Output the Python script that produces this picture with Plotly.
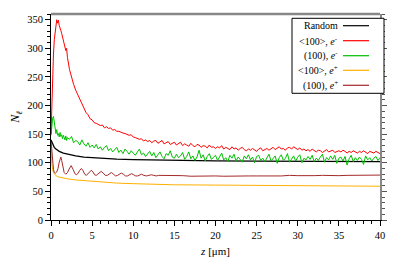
import plotly.graph_objects as go

# ---------------- data ----------------
# grid for the noisy electron curves: 0..2 step 0.1, then 2.25..40 step 0.25
z_noisy = [round(0.1 * i, 2) for i in range(21)] + [round(2 + 0.25 * i, 2) for i in range(1, 153)]

axis_e_minus = [
    150, 212, 262, 290, 315, 331, 345, 350, 344, 349, 340, 337, 331, 326, 319, 315, 309, 303, 296, 300, 284,
    263, 249, 237, 227,
    219, 212, 202, 197,
    188, 184, 177, 175,
    170, 169, 167, 165,
    166, 161, 163, 160,
    161, 157, 158, 155,
    155, 153, 152, 151,
    150, 148, 149, 145,
    144, 143, 141, 142,
    138, 140, 137, 139,
    135, 138, 139, 134,
    136, 139, 133, 135,
    137, 132, 134, 136,
    131, 134, 136, 130,
    133, 131, 129, 134,
    130, 128, 132, 131,
    127, 130, 129, 126,
    131, 127, 128, 125,
    128, 126, 130, 124,
    127, 125, 123, 128,
    124, 126, 122, 125,
    127, 123, 121, 124,
    122, 125, 123, 120,
    124, 126, 121, 123,
    125, 122, 124, 127,
    123, 126, 128, 124,
    125, 122, 126, 127,
    124, 128, 125, 123,
    126, 122, 124, 121,
    123, 120, 124, 122,
    119, 122, 121, 118,
    121, 123, 119, 120,
    122, 118, 120, 121,
    119, 122, 120, 117,
    120, 118, 121, 119,
    117, 120, 118, 121,
    119, 116, 120, 118,
    117, 120, 118, 116,
]

plane_e_minus = [
    148, 166, 178, 181, 169, 160, 151, 158, 148, 151, 145, 153, 146, 149, 142, 148, 144, 140, 147, 139, 144,
    141, 146, 135, 139,
    137, 131, 140, 133,
    129, 135, 127, 131,
    126, 132, 124, 128,
    122, 127, 130, 121,
    125, 119, 123, 127,
    118, 122, 116, 124,
    120, 115, 121, 117,
    113, 119, 124, 114,
    117, 111, 116, 120,
    112, 118, 109, 115,
    119, 111, 107, 116,
    113, 121, 110, 108,
    115, 109, 112, 118,
    106, 111, 119, 107,
    112, 104, 110, 122,
    108, 114, 103, 111,
    116, 106, 109, 113,
    104, 111, 117, 105,
    109, 102, 113, 108,
    115, 103, 110, 106,
    101, 112, 107, 114,
    105, 110, 100, 111,
    113, 104, 108, 102,
    110, 115, 103, 107,
    112, 99, 109, 114,
    104, 108, 116, 101,
    107, 112, 103, 110,
    114, 100, 108, 105,
    111, 106, 113, 102,
    108, 104, 110, 115,
    101, 109, 105, 112,
    106, 113, 99, 108,
    110, 103, 111, 96,
    107, 113, 102, 109,
    104, 110, 106, 97,
    112, 105, 109, 103,
    108, 111, 104, 109,
]

z_random = [0, 0.1, 0.2, 0.4, 0.6, 0.8, 1.0, 1.5, 2, 3, 4, 5, 6, 7, 8, 10, 12, 15, 20, 25, 30, 35, 40]
random_vals = [140, 136, 132, 127, 124, 122, 120, 117, 115, 112, 110, 109, 108, 107, 106.5, 105.5, 105,
               104, 103.5, 103, 102.5, 102.5, 102]

z_axis_pos = [0, 0.05, 0.1, 0.2, 0.3, 0.5, 0.75, 1, 1.5, 2, 3, 4, 5, 6, 7, 8, 10, 12, 15, 20, 25, 30, 35, 40]
axis_e_plus = [130, 110, 98, 88, 83, 79, 76, 75, 73, 72, 70, 69, 67, 66, 65, 64.5, 63.5, 62.5, 61.5, 61,
               60.5, 60, 59.5, 59]

z_plane_pos = [
    0, 0.1, 0.2, 0.3, 0.4, 0.55, 0.7, 0.85, 1.0, 1.1,
    1.2, 1.3, 1.45, 1.6, 1.8, 2.0, 2.2, 2.45, 2.7, 2.9,
    3.1, 3.3, 3.5, 3.7, 3.9, 4.1, 4.3, 4.5, 4.7, 4.9,
    5.1, 5.3, 5.5, 5.7, 5.9, 6.1, 6.35, 6.6, 6.85, 7.1,
    7.35, 7.6, 7.85, 8.1, 8.3, 8.55, 8.8, 9.05, 9.3, 9.55,
    9.8, 10.05, 10.3, 10.55, 10.8, 11.0, 11.3, 11.6, 11.9, 12.2,
    12.5, 12.8, 13.1, 13.4, 13.7, 14.0, 15, 16, 17, 18,
    19, 20, 21, 22, 23, 24, 25, 26, 27, 28,
    29, 30, 31, 32, 33, 34, 35, 36, 37, 38,
    39, 40,
]
plane_e_plus = [
    140, 118, 99, 88, 83, 82, 84, 90, 101, 108,
    110, 104, 92, 83, 80, 83, 89, 95, 88, 81,
    79, 82, 87, 90, 86, 80, 78, 81, 85, 87,
    84, 79, 78, 80, 83, 85, 82, 78, 78, 81,
    83, 80, 77, 78, 80, 82, 80, 77, 77, 79,
    81, 79, 77, 77, 79, 80, 78, 77, 78, 79,
    78, 77, 78, 78, 77, 77.5, 77, 77.5, 76.5, 77,
    77.5, 77, 76.5, 77, 77.5, 77, 77, 77.5, 77, 77,
    78, 77.5, 77, 77.5, 78, 77.5, 77.5, 78, 78, 78.5,
    78, 78.5,
]

series_names = ["Random", "&lt;100&gt;, <i>e</i><sup>-</sup>", "(100), <i>e</i><sup>-</sup>",
                "&lt;100&gt;, <i>e</i><sup>+</sup>", "(100), <i>e</i><sup>+</sup>"]
series_colors = ["#000000", "#ff0000", "#00c000", "#ffb000", "#a52a2a"]

x_ticks = [0, 5, 10, 15, 20, 25, 30, 35, 40]
y_ticks = [0, 50, 100, 150, 200, 250, 300, 350]

# ---------------- figure ----------------
FONT = "Liberation Serif, DejaVu Serif, Times New Roman, serif"
fig = go.Figure()

series = [
    (z_random, random_vals),
    (z_noisy, axis_e_minus),
    (z_noisy, plane_e_minus),
    (z_axis_pos, axis_e_plus),
    (z_plane_pos, plane_e_plus),
]
widths = [1.3, 1, 1, 1, 1]
# draw order: orange, dark red, black, green, red
for idx in [3, 4, 0, 2, 1]:
    zx, vy = series[idx]
    fig.add_trace(go.Scatter(x=zx, y=vy, mode="lines", showlegend=False,
                             line=dict(color=series_colors[idx], width=widths[idx])))

# dummy trace so the right axis is drawn
fig.add_trace(go.Scatter(x=[None], y=[None], yaxis="y2", showlegend=False, hoverinfo="skip"))

# page has an 8px body margin: figure is 388x256, placed at (8,8)
OFF = 8
PAGE_W, PAGE_H = 396, 264
W, H = PAGE_W - OFF, PAGE_H - OFF
# plot area in page pixels: x 51..380, y 14..220
L, R, T, B = 51, 380, 14, 220

def px(xp):
    return (xp - L) / (R - L)

def py(yp):
    return (B - yp) / (B - T)

shapes = [
    dict(type="line", xref="paper", yref="paper", x0=0, x1=1, y0=1, y1=1,
         line=dict(color="#888888", width=2.5)),
    dict(type="rect", xref="paper", yref="paper", x0=px(292), x1=px(384), y0=py(93.3), y1=py(18.3),
         line=dict(color="#000000", width=1), fillcolor="white"),
]
annotations = []
rows = [25.7, 40.7, 55.7, 70.3, 85.3]
for i, yrow in enumerate(rows):
    shapes.append(dict(type="line", xref="paper", yref="paper", x0=px(343), x1=px(369),
                       y0=py(yrow), y1=py(yrow), line=dict(color=series_colors[i], width=1.2)))
    annotations.append(dict(xref="paper", yref="paper", x=px(340), y=py(yrow), text=series_names[i],
                            showarrow=False, xanchor="right", yanchor="middle",
                            font=dict(family=FONT, size=10, color="black")))

fig.update_layout(
    width=W, height=H,
    margin=dict(l=L - OFF, r=PAGE_W - R, t=T - OFF, b=PAGE_H - B, autoexpand=False),
    paper_bgcolor="white", plot_bgcolor="white",
    font=dict(family=FONT, size=10.5, color="black"),
    shapes=shapes, annotations=annotations,
    xaxis=dict(range=[0, 40], tickvals=x_ticks, ticks="outside", ticklen=5, tickwidth=1,
               tickcolor="black", showline=True, linecolor="black", linewidth=1,
               showgrid=False, zeroline=False,
               minor=dict(dtick=1, ticks="outside", ticklen=3, tickcolor="black", showgrid=False),
               title=dict(text="<i>z</i> [μm]", standoff=7, font=dict(family=FONT, size=11))),
    yaxis=dict(range=[0, 360], tickvals=y_ticks, ticks="outside", ticklen=5, tickwidth=1,
               tickcolor="black", showline=True, linecolor="black", linewidth=1,
               showgrid=False, zeroline=False,
               minor=dict(dtick=10, ticks="outside", ticklen=3, tickcolor="black", showgrid=False),
               title=dict(text="<i>N</i><sub><i>ℓ</i></sub>", standoff=14, font=dict(family=FONT, size=12))),
    yaxis2=dict(range=[0, 360], overlaying="y", side="right", tickvals=y_ticks, showticklabels=False,
                ticks="outside", ticklen=5, tickcolor="#555555", showline=True, linecolor="#888888",
                linewidth=1.5, showgrid=False, zeroline=False,
                minor=dict(dtick=10, ticks="outside", ticklen=3, tickcolor="#555555", showgrid=False)),
)

fig.write_html("out.html")
